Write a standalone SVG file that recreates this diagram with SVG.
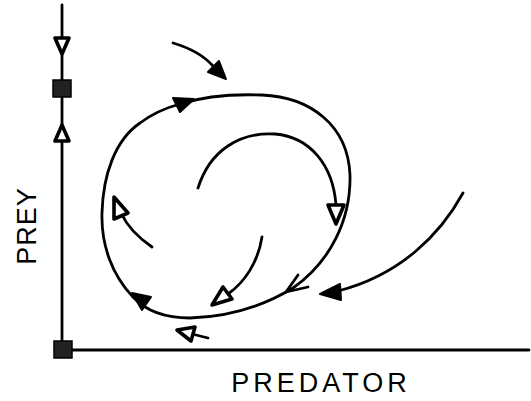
<svg xmlns="http://www.w3.org/2000/svg" width="531" height="401" viewBox="0 0 531 401">
<style>
.c{fill:none;stroke:#000;stroke-width:2.8;stroke-linecap:round;stroke-linejoin:round}
.h{fill:#fff;stroke:#000;stroke-width:3.6;stroke-linejoin:round}
.f{fill:#000;stroke:#000;stroke-width:2;stroke-linejoin:round}
.sq{fill:#222;stroke:#000;stroke-width:1.5}
.t{font-family:"Liberation Sans",Arial,sans-serif;font-size:27px;fill:#000}
</style>
<rect width="531" height="401" fill="#fff"/>
<g id="axes">
<line class="c" x1="62" y1="5" x2="62" y2="350"/>
<line class="c" x1="62" y1="350" x2="529" y2="350"/>
<polygon class="h" points="62,54 55,38 69,38"/>
<polygon class="h" points="62,125 55,141 69,141"/>
<rect class="sq" x="53" y="80" width="18" height="17"/>
<rect class="sq" x="54" y="341" width="18" height="17"/>
</g>
<g id="labels">
<text class="t" x="321" y="392" text-anchor="middle" letter-spacing="4">PREDATOR</text>
<text class="t" transform="translate(36,226) rotate(-90)" text-anchor="middle" letter-spacing="1">PREY</text>
</g>
<g id="connectors">
<path class="c" d="M180,104 C205,96 235,94 262,95 C310,97 348,125 350,175 C351,220 330,262 293,288 C265,305 230,317 190,318 C165,318 145,310 133,297 C112,275 101,245 102,213 C103,175 115,140 140,123 C152,114 165,108 180,104 Z"/>
<polygon class="f" points="194,99 173,98 180,112"/>
<polygon class="f" points="132,293 151,297 142,310"/>
<polyline class="c" points="298,275 286,292 308,287"/>
<path class="c" d="M152,247 Q130,232 121,213"/>
<polygon class="h" points="114,197 128,213 114,219"/>
<path class="c" d="M198,188 C210,150 240,132 275,134 C310,137 333,165 336,205"/>
<polygon class="h" points="336,224 328,205 344,205"/>
<path class="c" d="M262,237 C258,262 245,282 228,294"/>
<polygon class="h" points="212,305 232,299 223,287"/>
<path class="c" d="M208,338 L192,334"/>
<polygon class="h" points="177,330 195,327 191,341"/>
<path class="c" d="M463,193 C440,235 400,275 338,291"/>
<polygon class="f" points="320,294 340,284 341,300"/>
<path class="c" d="M173,43 C190,48 205,57 213,66"/>
<polygon class="f" points="226,79 219,61 208,72"/>
</g>
</svg>
